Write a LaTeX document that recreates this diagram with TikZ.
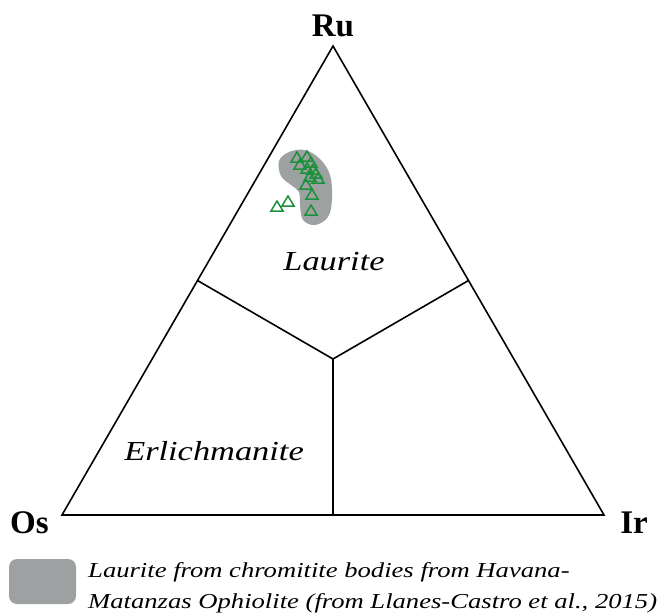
\documentclass[tikz,border=0pt]{standalone}
\usepackage{fontspec}
\setmainfont{Liberation Serif}
\newfontfamily\wideserif{Liberation Serif}[FakeStretch=1.25]
\usetikzlibrary{calc}

\definecolor{fieldgray}{RGB}{158,161,161}
\definecolor{ptgreen}{RGB}{28,145,60}

\tikzset{
    apex/.style={font=\fontsize{33}{33}\selectfont\bfseries, inner sep=0pt, anchor=base},
    field/.style={font=\wideserif\fontsize{27.5}{27.5}\selectfont\itshape, inner sep=0pt, anchor=base},
    border/.style={line width=1.6pt, line join=miter},
    pt/.style={ptgreen, line width=1.5pt, line join=miter}
}

\begin{document}
\begin{tikzpicture}[x=1pt, y=-1pt]
    % рамка рисунка
    \useasboundingbox (0,0) rectangle (664,614);

    % вершины и середины сторон
    \coordinate (os) at (62,515);
    \coordinate (ir) at (604,515);
    \coordinate (ru) at (333,46);
    \coordinate (c)  at (333,359);
    \coordinate (ml) at ($(os)!0.5!(ru)$);
    \coordinate (mr) at ($(ir)!0.5!(ru)$);
    \coordinate (mb) at ($(os)!0.5!(ir)$);

    % поле лаурита (Llanes-Castro et al.)
    \fill[fieldgray] plot[smooth cycle, tension=0.6] coordinates {
        (279,161) (289,152) (305,150) (320,159) (330,175) (332,199)
        (328,217) (315,225) (303,220) (300,205) (299,192) (291,185) (281,176)};

    % треугольник и границы полей
    \draw[border] (os) -- (ir) -- (ru) -- cycle;
    \draw[border] (ml) -- (c) -- (mr);
    \draw[border] (c) -- (mb);

    % точки анализа
    \foreach \x/\y in {297/157, 307/156, 300/164, 311/162, 307/168, 313/169,
                       316/173, 318/178, 310/176, 306/184, 312/194, 311/210,
                       288/201, 277/206}
        \draw[pt] (\x-6,\y+5) -- (\x+6,\y+5) -- (\x,\y-5) -- cycle;

    % подписи
    \node[apex] (lru) at (333,36) {Ru};
    \node[apex] (los) at (29.5,533) {Os};
    \node[apex] (lir) at (634,533) {Ir};
    \node[field] (lau) at (334,270) {Laurite};
    \node[field] (erl) at (214,460) {Erlichmanite};

    % легенда
    \fill[fieldgray, rounded corners=8pt] (9,559) rectangle (76,604);
    \node[font=\wideserif\fontsize{21.3}{31}\selectfont\itshape, inner sep=0pt,
          anchor=base west, align=left] (leg) at (88,608)
        {Laurite from chromitite bodies from Havana-\\
         Matanzas Ophiolite (from Llanes-Castro et al., 2015)};
\end{tikzpicture}
\end{document}
